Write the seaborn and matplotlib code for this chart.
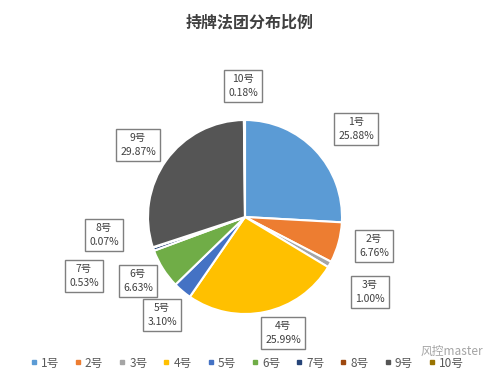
import matplotlib
matplotlib.use('Agg')
import matplotlib.pyplot as plt
import seaborn as sns
from matplotlib.lines import Line2D

# data
groups = ['1号', '2号', '3号', '4号', '5号', '6号', '7号', '8号', '9号', '10号']
shares = [25.88, 6.76, 1.00, 25.99, 3.10, 6.63, 0.53, 0.07, 29.87, 0.18]
title = '持牌法团分布比例'

colors = ['#5B9BD5', '#ED7D31', '#A5A5A5', '#FFC000', '#4472C4',
          '#70AD47', '#264478', '#9E480E', '#555555', '#997300']

# label box centres, in pixels from the top-left corner
label_pos = [(356, 129), (374, 246), (370, 292), (283, 333), (162, 315),
             (138, 281), (84, 276), (104, 235), (138, 145), (243, 86)]

sns.set_theme(style='white')
plt.rcParams['font.family'] = ['Noto Sans CJK SC', 'DejaVu Sans']

W, H = 500, 375
fig = plt.figure(figsize=(5, 3.75), dpi=100)
ax = fig.add_axes([0, 0, 1, 1])

pal = sns.color_palette(colors)
ax.pie(shares, colors=pal, startangle=90, counterclock=False,
       center=(245, H - 217), radius=97, frame=True,
       wedgeprops=dict(edgecolor='white', linewidth=1.5))
ax.set_xlim(0, W)
ax.set_ylim(0, H)
ax.set_aspect('equal')
ax.axis('off')

for g, s, (px, py) in zip(groups, shares, label_pos):
    ax.text(px, H - py, f'{g}\n{s:.2f}%', ha='center', va='center',
            fontsize=7.5, color='#404040', linespacing=1.4,
            bbox=dict(boxstyle='square,pad=0.4', facecolor='white',
                      edgecolor='#7F7F7F', linewidth=1))

ax.text(250, H - 22, title, ha='center', va='center', fontsize=11.5,
        fontweight='bold', color='#404040')

handles = [Line2D([0], [0], marker='s', linestyle='', markersize=3.5,
                  markerfacecolor=c, markeredgecolor=c) for c in pal]
fig.legend(handles, groups, loc='center', bbox_to_anchor=(0.494, 1 - 363 / H),
           ncol=10, frameon=False, fontsize=8.5, handlelength=0.6,
           handletextpad=0.3, columnspacing=1.3, labelcolor='#595959')

ax.text(452, H - 351, '风控master', ha='center', va='center', fontsize=8.5,
        color='#9A9A9A', alpha=0.9)

fig.savefig('out.png', dpi=100, facecolor='white')
